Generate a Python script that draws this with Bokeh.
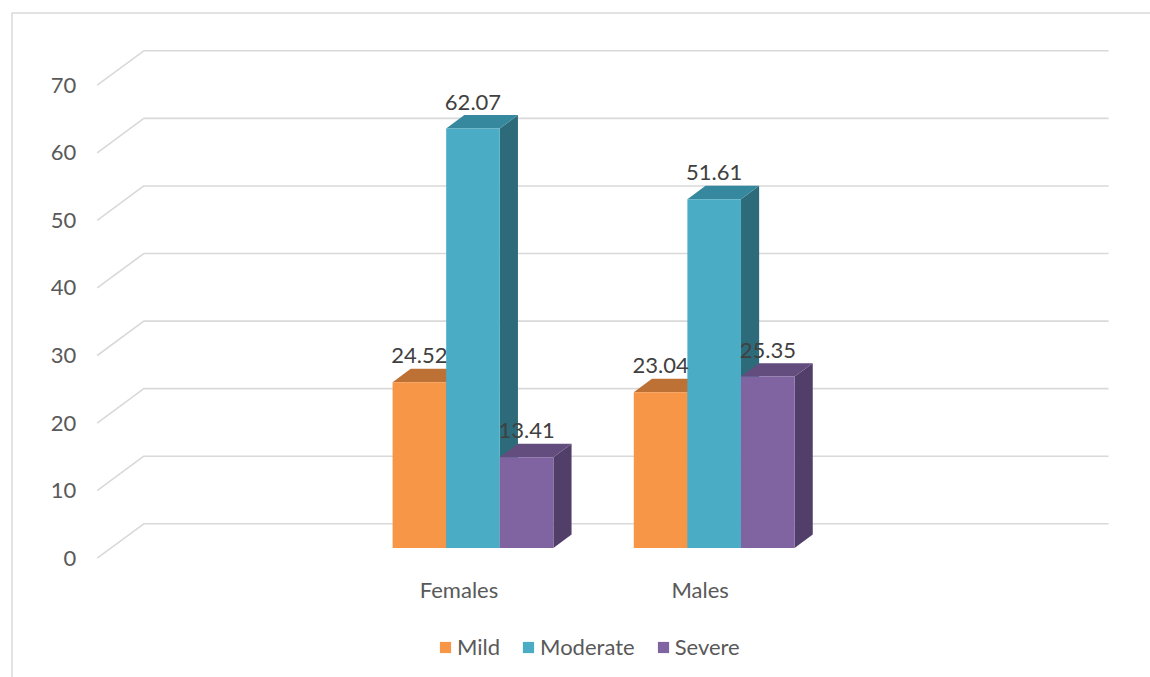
from bokeh.plotting import figure
from bokeh.models import Range1d, Legend, LegendItem
from bokeh.core.properties import value
from bokeh.embed import file_html
from bokeh.resources import INLINE

# ---- data -------------------------------------------------------------
groups = ["Females", "Males"]
severity = ["Mild", "Moderate", "Severe"]
mild = [24.52, 23.04]
moderate = [62.07, 51.61]
severe = [13.41, 25.35]
y_ticks = [0, 10, 20, 30, 40, 50, 60, 70]

series = [mild, moderate, severe]
front_colors = ["#F79646", "#4BACC6", "#8064A2"]
top_colors = ["#BD7135", "#35889D", "#634D7E"]
side_colors = ["#A8642F", "#2E6B7A", "#523F69"]

# category slots: an empty slot on each side of the two groups
n_slots = 4
group_slot = [1, 2]

# ---- layout (screen pixels) -----------------------------------------
W_PX, H_PX = 1150, 677
FRONT_LEFT = 96.7      # left end of the front (wall) edge
FRONT_ZERO = 557.7     # front-edge position of value 0
SLOT_PX = 241.2        # width of one category slot
UNIT_PX = 6.757        # pixels per value unit
WALL_DX_PX = 46.6      # oblique depth of the chart box
WALL_DY_PX = 34.4

# depth vector of the whole box in data units
DX = WALL_DX_PX / SLOT_PX
DY = WALL_DY_PX / UNIT_PX
BAR_FRONT = 0.30       # bars start this far into the box
BAR_DEPTH = 0.39       # and are this deep
BAR_W = 2.0 / 9.0      # bar width in slots


def px_x(px):
    return (px - FRONT_LEFT) / SLOT_PX


def px_y(py):
    return (FRONT_ZERO - py) / UNIT_PX


FONT = value("Lato")
FONT_SIZE = "22px"

p = figure(
    width=W_PX, height=H_PX,
    x_range=Range1d(px_x(0), px_x(W_PX)),
    y_range=Range1d(px_y(H_PX), px_y(0)),
    output_backend="svg", toolbar_location=None,
    x_axis_location=None, y_axis_location=None,
    min_border=0, outline_line_color=None,
    background_fill_color="white", border_fill_color="white",
)
p.xgrid.visible = False
p.ygrid.visible = False

# outer chart border (left and top edges)
p.line([px_x(11.5), px_x(11.5), px_x(W_PX + 5)],
       [px_y(H_PX + 5), px_y(12.5), px_y(12.5)],
       line_color="#D9D9D9", line_width=1.5)

# gridlines: a diagonal on the side wall, then along the back wall
gx, gy = [], []
for v in y_ticks:
    gx.append([0, DX, n_slots + DX])
    gy.append([v, v + DY, v + DY])
p.multi_line(gx, gy, line_color="#D9D9D9", line_width=1.6)

# value labels on the wall
p.text(x=[0] * len(y_ticks), y=y_ticks, text=[str(v) for v in y_ticks],
       x_offset=-21, text_align="right", text_baseline="middle",
       text_font=FONT, text_font_size=FONT_SIZE, text_color="#595959")

# category labels
p.text(x=[s + 0.5 for s in group_slot], y=[0, 0], text=groups,
       y_offset=31, text_align="center", text_baseline="middle",
       text_font=FONT, text_font_size=FONT_SIZE, text_color="#595959")

# 3D bars
fx0 = BAR_FRONT * DX
fy0 = BAR_FRONT * DY
ddx = BAR_DEPTH * DX
ddy = BAR_DEPTH * DY

legend_items = []
label_x, label_y, label_t = [], [], []
for i, (name, vals) in enumerate(zip(severity, series)):
    lefts, rights, bottoms, tops = [], [], [], []
    top_xs, top_ys, side_xs, side_ys = [], [], [], []
    for slot, v in zip(group_slot, vals):
        xl = slot + 0.5 - 1.5 * BAR_W + i * BAR_W + fx0
        xr = xl + BAR_W
        yb = fy0
        yt = v + fy0
        lefts.append(xl); rights.append(xr); bottoms.append(yb); tops.append(yt)
        top_xs.append([xl, xr, xr + ddx, xl + ddx])
        top_ys.append([yt, yt, yt + ddy, yt + ddy])
        side_xs.append([xr, xr + ddx, xr + ddx, xr])
        side_ys.append([yb, yb + ddy, yt + ddy, yt])
        label_x.append((xl + xr) / 2)
        label_y.append(yt + ddy)
        label_t.append(f"{v:.2f}")
    p.patches(side_xs, side_ys, fill_color=side_colors[i], line_color=None)
    p.patches(top_xs, top_ys, fill_color=top_colors[i], line_color=None)
    front = p.quad(left=lefts, right=rights, bottom=bottoms, top=tops,
                   fill_color=front_colors[i], line_color=None)
    legend_items.append(LegendItem(label=name, renderers=[front]))

# data labels
p.text(x=label_x, y=label_y, text=label_t, y_offset=-13,
       text_align="center", text_baseline="middle",
       text_font=FONT, text_font_size=FONT_SIZE, text_color="#404040")

legend = Legend(
    items=legend_items, orientation="horizontal",
    location=(438, 17), padding=0, margin=0,
    glyph_width=14, glyph_height=14, label_standoff=5, spacing=21,
    label_text_font="Lato", label_text_font_size=FONT_SIZE,
    label_text_color="#595959",
    border_line_color=None, background_fill_alpha=0,
)
p.add_layout(legend)

open("out.html", "w").write(file_html(p, INLINE))
